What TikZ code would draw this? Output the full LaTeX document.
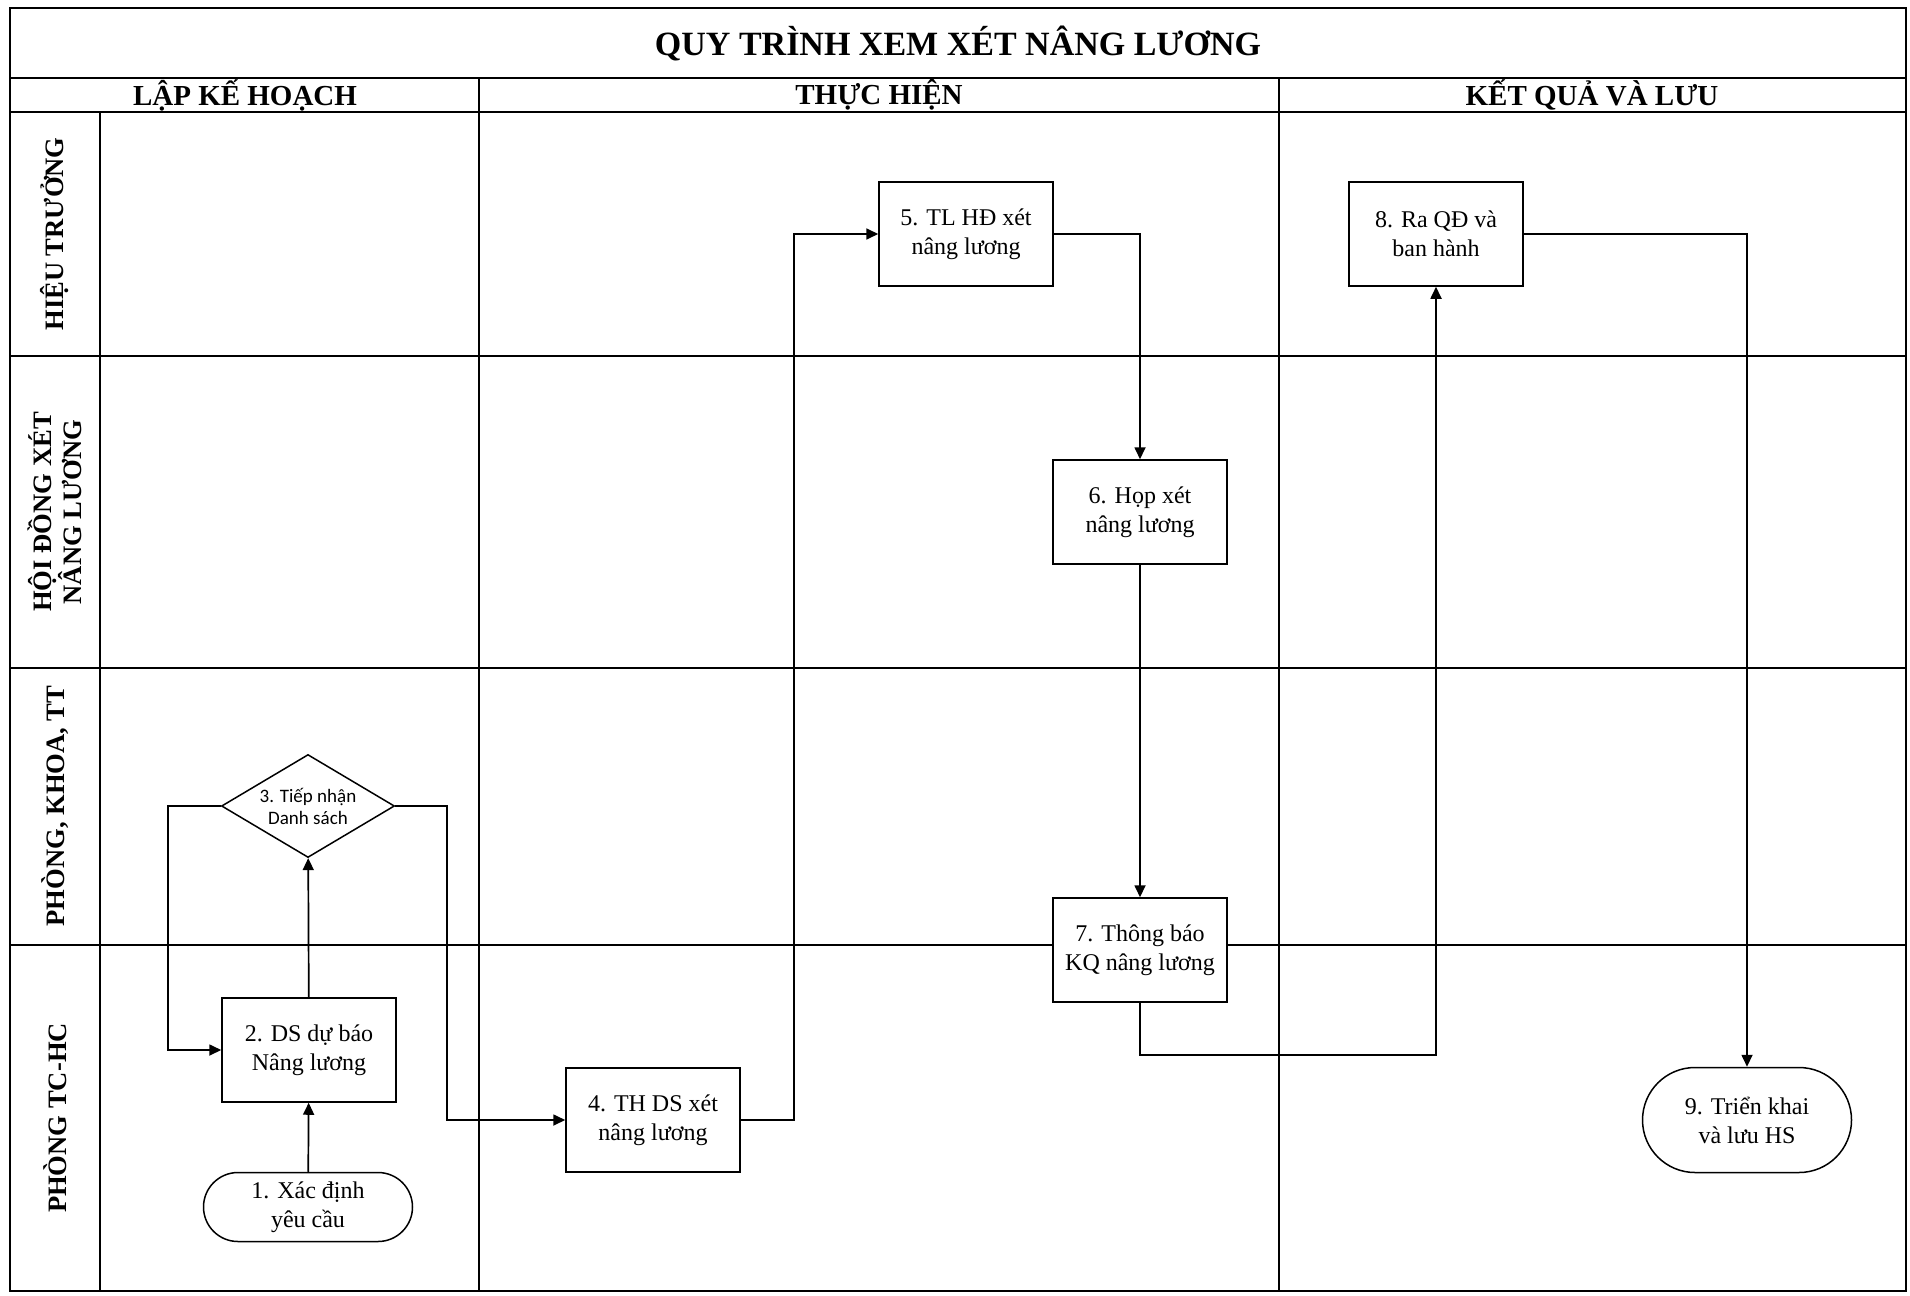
\documentclass[tikz,border=0pt]{standalone}
\usepackage{fontspec}
\setmainfont{Liberation Serif}
\newfontfamily\diafont{Carlito}
\usetikzlibrary{arrows.meta, shapes.geometric, shapes.misc}

\begin{document}
\begin{tikzpicture}[x=0.5pt, y=-0.5pt,
  gridline/.style={line width=0.75pt},
  box/.style={draw, line width=0.75pt, fill=white, minimum width=87pt, minimum height=52pt,
    inner sep=2pt, align=center, font=\fontsize{12}{14.5}\selectfont},
  term/.style={draw, line width=0.75pt, fill=white, rounded rectangle, minimum width=108.5pt,
    inner sep=2pt, align=center, font=\fontsize{12}{14.5}\selectfont},
  decision/.style={draw, line width=0.75pt, fill=white, diamond, aspect=1.68, inner sep=0pt,
    minimum width=86.5pt, minimum height=51.5pt, align=center, font=\diafont\fontsize{9.5}{11}\selectfont},
  arr/.style={-{Triangle[length=6pt,width=5.5pt]}, line width=0.85pt},
  head/.style={font=\bfseries\fontsize{14.5}{16}\selectfont},
  lane/.style={rotate=90, align=center, font=\bfseries\fontsize{13.3}{12.5}\selectfont}]
\useasboundingbox (0,0) rectangle (1910,1295);
%\draw[step=100,gray,very thin] (0,0) grid (1910,1295);
\draw[line width=1.2pt] (10,8) rectangle (1906,1291);
\draw[gridline] (10,78)--(1906,78);
\draw[gridline] (10,112)--(1906,112);
\foreach \y in {356,668,945}
  \draw[gridline] (10,\y)--(1906,\y);
\draw[gridline] (100,112)--(100,1291);
\foreach \x in {479,1279}
  \draw[gridline] (\x,78)--(\x,1291);
% headings
\node[font=\bfseries\fontsize{17}{20}\selectfont] (title) at (958,43) {QUY TRÌNH XEM XÉT NÂNG LƯƠNG};
\node[head] (plan) at (245,95) {LẬP KẾ HOẠCH};
\node[head] (exec) at (879,95) {THỰC HIỆN};
\node[head] (result) at (1592,95) {KẾT QUẢ VÀ LƯU};
\node[lane] (hieutruong) at (55,234) {HIỆU TRƯỞNG};
\node[lane] (hoidong) at (55,512) {HỘI ĐỒNG XÉT\\NÂNG LƯƠNG};
\node[lane] (phongkhoa) at (55,806) {PHÒNG, KHOA, TT};
\node[lane] (tchc) at (55,1118) {PHÒNG TC-HC};
% steps
\node[term, minimum height=34.5pt] (t1) at (308,1207) {1. Xác định\\yêu cầu};
\node[box] (b2) at (309,1050) {2. DS dự báo\\Nâng lương};
\node[decision] (d3) at (308,806) {3. Tiếp nhận\\Danh sách};
\node[box] (b4) at (653,1120) {4. TH DS xét\\nâng lương};
\node[box] (b5) at (966,234) {5. TL HĐ xét\\nâng lương};
\node[box] (b6) at (1140,512) {6. Họp xét\\nâng lương};
\node[box] (b7) at (1140,950) {7. Thông báo\\KQ nâng lương};
\node[box] (b8) at (1436,234) {8. Ra QĐ và\\ban hành};
\node[term, minimum height=52.5pt] (t9) at (1747,1120) {9. Triển khai\\và lưu HS};
% flow
\draw[arr] (t1)--(b2);
\draw[arr] (b2)--(d3);
\draw[arr] (d3.west)--++(-53,0) |- (b2);
\draw[arr] (d3.east)--++(52,0) |- (b4);
\draw[arr] (b4.east)--++(53,0) |- (b5);
\draw[arr] (b5.east) -| (b6);
\draw[arr] (b6)--(b7);
\draw[arr] (b7.south)--++(0,52) -| (b8);
\draw[arr] (b8.east) -| (t9);
\end{tikzpicture}
\end{document}
